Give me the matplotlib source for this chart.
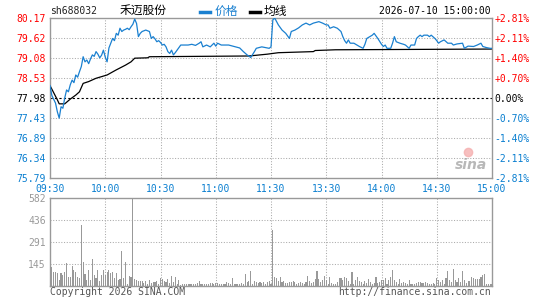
import numpy as np
import matplotlib.pyplot as plt
from matplotlib.lines import Line2D

plt.rcParams['font.family'] = ['DejaVu Sans Mono', 'Noto Sans CJK SC']

prev_close = 77.98
price_ticks = [80.17, 79.62, 79.08, 78.53, 77.98, 77.43, 76.89, 76.34, 75.79]
pct_labels = ['+2.81%', '+2.11%', '+1.40%', '+0.70%', '0.00%', '-0.70%', '-1.40%', '-2.11%', '-2.81%']
time_pos = [0, 30, 60, 90, 120, 150, 180, 210, 240]
time_labels = ['09:30', '10:00', '10:30', '11:00', '11:30', '13:30', '14:00', '14:30', '15:00']
vol_ticks = [145, 291, 436, 582]

# minute index (0..240) and price
price_min = [0, 1, 3, 4, 5, 6, 7, 8, 9, 10, 11, 12, 13, 14, 15, 16, 17, 18, 19, 20, 21, 22, 23, 24,
             25, 26, 27, 28, 29, 30, 31, 32, 33, 34, 35, 36, 37, 38, 39, 40, 41, 42, 43, 44, 45, 46,
             47, 48, 49, 50, 52, 54, 55, 56, 57, 58, 59, 60, 61, 62, 63, 64, 65, 66, 67, 68, 69, 70,
             71, 75, 77, 79, 81, 82, 83, 85, 87, 89, 90, 91, 93, 97, 100, 103, 105, 107, 109, 111,
             112, 115, 117, 119, 120, 121, 122, 124, 126, 128, 130, 131, 133, 135, 137, 139, 141,
             143, 146, 148, 150, 151, 152, 154, 156, 158, 159, 160, 161, 162, 163, 165, 168, 170,
             171, 172, 175, 176, 178, 180, 181, 182, 183, 185, 186, 187, 188, 190, 192, 193, 195,
             196, 198, 199, 200, 201, 202, 203, 205, 206, 207, 209, 210, 211, 212, 214, 216, 218,
             219, 221, 224, 225, 227, 230, 232, 234, 235, 237, 239, 240]
price = [78.32, 78.05, 77.84, 77.60, 77.43, 77.74, 77.70, 77.98, 78.20, 78.15, 78.34, 78.47, 78.40,
         78.61, 78.55, 78.70, 78.84, 79.11, 78.97, 79.02, 78.92, 79.05, 79.16, 79.12, 79.25, 79.18,
         79.08, 79.15, 79.29, 79.10, 78.97, 79.35, 79.48, 79.61, 79.55, 79.75, 79.70, 79.89, 79.80,
         79.84, 79.86, 79.89, 79.85, 79.93, 80.00, 80.14, 80.02, 79.66, 79.75, 79.80, 79.84,
         79.80, 79.61, 79.66, 79.60, 79.52, 79.55, 79.50, 79.43, 79.45, 79.38, 79.25, 79.20,
         79.29, 79.16, 79.22, 79.29, 79.36, 79.43, 79.43, 79.45, 79.42, 79.48, 79.52, 79.38,
         79.43, 79.38, 79.48, 79.40, 79.48, 79.43, 79.43, 79.39, 79.35, 79.25, 79.16, 79.09,
         79.25, 79.34, 79.38, 79.36, 79.34, 79.38, 80.12, 80.17, 79.98, 79.84, 79.75, 79.61,
         79.80, 79.84, 79.90, 79.98, 80.03, 79.98, 80.03, 80.07, 80.03, 79.98, 79.98, 79.89,
         79.93, 79.89, 79.80, 79.66, 79.55, 79.48, 79.57, 79.48, 79.48, 79.39, 79.34, 79.45,
         79.61, 79.70, 79.75, 79.61, 79.45, 79.39, 79.43, 79.34, 79.34, 79.48, 79.66, 79.52,
         79.48, 79.45, 79.43, 79.34, 79.43, 79.43, 79.61, 79.66, 79.70, 79.66, 79.70, 79.70,
         79.66, 79.70, 79.61, 79.55, 79.48, 79.52, 79.57, 79.48, 79.48, 79.43, 79.46, 79.48,
         79.34, 79.40, 79.39, 79.43, 79.48, 79.39, 79.36, 79.34, 79.34]

avg_min = [0, 4, 5, 8, 11, 14, 16, 18, 21, 25, 31, 36, 41, 44, 46, 53, 54, 108, 118, 124, 143, 144,
           155, 240]
avg = [78.32, 77.93, 77.82, 77.82, 77.95, 78.06, 78.15, 78.38, 78.43, 78.52, 78.61, 78.75, 78.88,
       78.97, 79.07, 79.08, 79.11, 79.13, 79.18, 79.22, 79.25, 79.28, 79.30, 79.32]

vol_am = [39, 125, 90, 90, 88, 39, 88, 74, 93, 150, 58, 60, 132, 109, 93, 58, 51, 404, 160, 81,
          39, 104, 39, 179, 74, 51, 104, 35, 74, 104, 74, 90, 104, 86, 90, 51, 86, 39, 45, 230,
          51, 160, 16, 67, 58, 582,
          44, 39, 35, 32, 35, 23, 35, 16, 39, 21, 26, 28, 30, 16, 51, 44, 32, 26, 44, 21, 67, 28,
          58, 16, 39, 5, 16, 12, 16, 16, 16, 12, 16, 16, 21, 35, 16, 12, 16, 12, 16, 23, 21, 16,
          23, 23, 12, 16, 16, 16, 28, 21, 16, 51, 16, 12, 16, 12, 21, 16, 81, 26, 35, 102, 16, 30,
          28, 21, 28, 21, 26, 16, 28, 32, 16]
vol_pm = [369, 58, 51, 35, 58, 28, 35, 21, 21, 28, 28, 35, 28, 16, 21, 28, 21, 16, 26, 67,
          35, 21, 26, 44, 102, 44, 28, 39, 67, 39, 16, 58, 21, 16, 16, 28, 51, 51, 39, 58,
          51, 35, 16, 90, 16, 39, 58, 35, 28, 16, 35, 21, 44, 28, 16, 21, 58, 21, 28, 39,
          39, 51, 16, 39, 58, 109, 39, 26, 16, 44, 21, 28, 21, 16, 39, 16, 16, 16, 21, 28,
          28, 21, 21, 26, 21, 16, 16, 21, 16, 51, 39, 28, 39, 16, 51, 97, 39, 28, 114, 39,
          28, 51, 28, 97, 39, 21, 30, 30, 58, 51, 44, 44, 44, 58, 74, 81, 16, 12, 12, 12]
volume = vol_am + vol_pm

blue = '#1a80d0'
label_blue = '#0a7fd0'
grid_c = '#aaaaaa'
frame_c = '#999999'

fig = plt.figure(figsize=(5.45, 3.0), dpi=100)
ax = fig.add_axes([50 / 545, 122 / 300, 442 / 545, 160 / 300])
axv = fig.add_axes([50 / 545, 14 / 300, 442 / 545, 88 / 300])

# price panel
ax.set_xlim(0, 240)
ax.set_ylim(price_ticks[-1], price_ticks[0])
for v in price_ticks[1:-1]:
    if v == prev_close:
        ax.axhline(v, color='black', lw=0.8, ls=(0, (2, 2)), zorder=1)
    else:
        ax.axhline(v, color=grid_c, lw=0.75, ls=(0, (1, 1.6)), zorder=1)
for t in time_pos[1:-1]:
    ax.axvline(t, color=grid_c, lw=0.75, ls=(0, (1, 1.6)), zorder=1)
ax.plot(price_min, price, color=blue, lw=0.9, zorder=3)
ax.plot(avg_min, avg, color='black', lw=0.9, zorder=2)

ax.set_yticks(price_ticks)
ax.set_yticklabels(['%.2f' % v for v in price_ticks])
ax.set_xticks(time_pos)
ax.set_xticklabels(time_labels)
ax.tick_params(axis='y', length=0, pad=3, labelsize=7)
ax.tick_params(axis='x', length=0, pad=4, labelsize=7, labelcolor=label_blue)
for lab, v in zip(ax.get_yticklabels(), price_ticks):
    lab.set_color('red' if v > prev_close else ('black' if v == prev_close else label_blue))

axr = ax.twinx()
axr.set_ylim(ax.get_ylim())
axr.set_yticks(price_ticks)
axr.set_yticklabels(pct_labels)
axr.tick_params(axis='y', length=0, pad=2, labelsize=7)
for lab, v in zip(axr.get_yticklabels(), price_ticks):
    lab.set_color('red' if v > prev_close else ('black' if v == prev_close else label_blue))
for s in axr.spines.values():
    s.set_visible(False)
for s in ax.spines.values():
    s.set_color(frame_c)
    s.set_linewidth(1.0)

# sina watermark
ax.text(0.99, 0.04, 'sina', transform=ax.transAxes, ha='right', va='bottom', fontsize=10,
        family='DejaVu Sans', style='italic', weight='bold', color='#b8b8b8', zorder=0)
ax.plot([0.945], [0.16], transform=ax.transAxes, marker='o', ms=6, color='#f5b0b0',
        alpha=0.8, zorder=0)

# volume panel
axv.set_xlim(0, 240)
axv.set_ylim(0, vol_ticks[-1])
for v in vol_ticks[:-1]:
    axv.axhline(v, color=grid_c, lw=0.75, ls=(0, (1, 1.6)), zorder=1)
for t in time_pos[1:-1]:
    axv.axvline(t, color=grid_c, lw=0.75, ls=(0, (1, 1.6)), zorder=1)
axv.bar(np.arange(len(volume)), volume, width=0.6, color='#999999', linewidth=0, zorder=2)
axv.set_xticks([])
axv.set_yticks(vol_ticks)
axv.set_yticklabels([str(v) for v in vol_ticks])
axv.tick_params(axis='y', length=0, pad=3, labelsize=7, labelcolor='#999999')
for s in axv.spines.values():
    s.set_color(frame_c)
    s.set_linewidth(1.0)

# header
ytop = 1 - 11.5 / 300
fig.text(50 / 545, ytop, 'sh688032', fontsize=7, va='center', ha='left', color='#222222')
fig.text(120 / 545, ytop, '禾迈股份', fontsize=8.5, va='center', ha='left',
         family=['Noto Sans CJK SC', 'DejaVu Sans'], color='black')
fig.add_artist(Line2D([200 / 545, 210 / 545], [ytop, ytop], color=blue, lw=2.5,
                      transform=fig.transFigure))
fig.text(215 / 545, ytop, '价格', fontsize=8.5, va='center', ha='left',
         family=['Noto Sans CJK SC', 'DejaVu Sans'], color=blue)
fig.add_artist(Line2D([250 / 545, 260 / 545], [ytop, ytop], color='black', lw=2.5,
                      transform=fig.transFigure))
fig.text(264 / 545, ytop, '均线', fontsize=8.5, va='center', ha='left',
         family=['Noto Sans CJK SC', 'DejaVu Sans'], color='black')
fig.text(491 / 545, ytop, '2026-07-10 15:00:00', fontsize=7, va='center', ha='right', color='black')

# footer
yb = 1 - 292 / 300
fig.text(50 / 545, yb, 'Copyright 2026 SINA.COM', fontsize=7, va='center', ha='left', color='#555555')
fig.text(491 / 545, yb, 'http://finance.sina.com.cn', fontsize=7, va='center', ha='right',
         color='#555555')

fig.savefig('out.png', dpi=100)
